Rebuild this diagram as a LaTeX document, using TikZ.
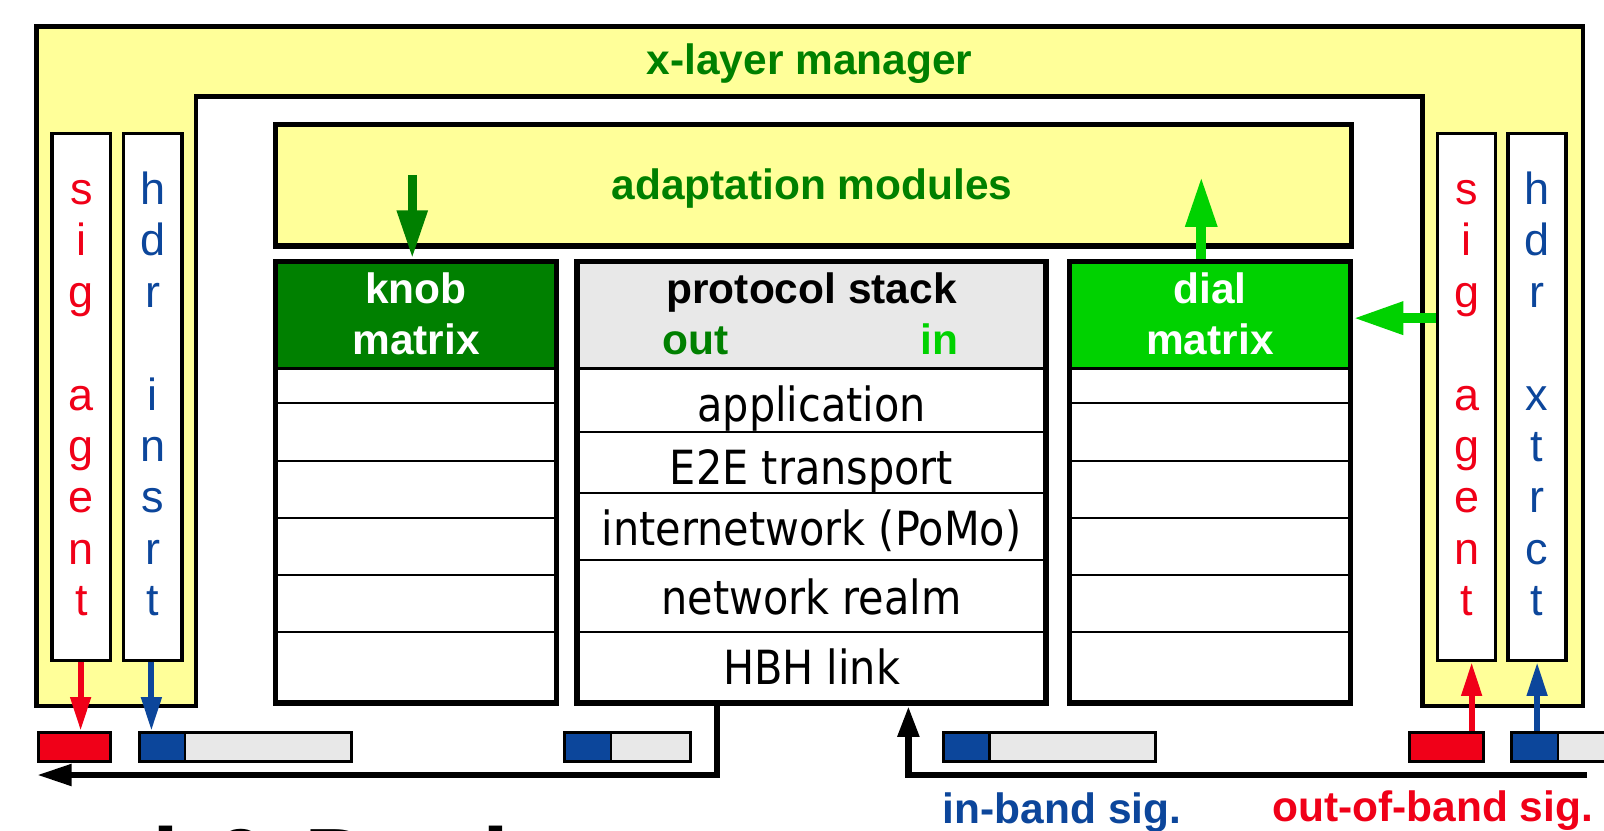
\documentclass[tikz,border=0pt]{standalone}
\usepackage{fontspec}
\setmainfont{Liberation Sans}
\newfontfamily\stackfont[FakeStretch=0.88]{DejaVu Sans}
\usetikzlibrary{arrows.meta}
\definecolor{ylw}{RGB}{255,255,153}
\definecolor{dgreen}{RGB}{0,128,0}
\definecolor{lgreen}{RGB}{0,210,0}
\definecolor{sred}{RGB}{240,0,24}
\definecolor{sblue}{RGB}{12,70,155}
\definecolor{pgray}{RGB}{232,232,232}
\begin{document}
\begin{tikzpicture}[x=1pt,y=-1pt,
  box/.style={draw=black, line width=5.5pt, rectangle, inner sep=0pt},
  big/.style={font=\fontsize{41.5}{48}\selectfont\bfseries, anchor=base, inner sep=0pt},
  stk/.style={font=\stackfont\fontsize{46}{52}\selectfont, anchor=base, inner sep=0pt},
  letter/.style={font=\fontsize{44}{50}\selectfont, anchor=base, inner sep=0pt},
  sigbox/.style={draw=black, fill=white, line width=3.5pt, inner sep=0pt, minimum width=57pt, minimum height=515pt},
  pkt/.style={draw=black, line width=3pt, inner sep=0pt, minimum height=28pt},
  rowline/.style={line width=2pt},
  hdrline/.style={line width=3pt},
  sigarrow/.style={line width=6pt, -{Triangle[length=33pt,width=19pt]}},
  busline/.style={line width=6.5pt, line join=miter},
]
\useasboundingbox (0,0) rectangle (1568,812);
\clip (0,0) rectangle (1568,812);
\fill[white] (0,0) rectangle (1568,812);

% outer x-layer manager frame
\draw[line width=4.5pt, fill=ylw, line join=miter]
  (35.5,26) -- (1547.5,26) -- (1547.5,690) -- (1390.5,690) -- (1390.5,94.6)
  -- (191.5,94.6) -- (191.5,690) -- (35.5,690) -- cycle;
\node[big, text=dgreen] (xlm) at (791.4,73.3) {x-layer manager};

% adaptation modules
\node[box, fill=ylw, minimum width=1051.6pt, minimum height=118.9pt] (adapt) at (795.2,181.15) {};
\node[big, text=dgreen] (adtxt) at (793.8,195.5) {adaptation modules};

% knob matrix
\fill[white] (269.3,255.5) rectangle (544,687.5);
\fill[dgreen] (269.3,255.5) rectangle (544,360.5);
\foreach \y in {394.3,450.3,506,562,618} \draw[rowline] (269.3,\y) -- (544,\y);
\draw[hdrline] (269.3,360.5) -- (544,360.5);
\node[box, minimum width=274.7pt, minimum height=432pt] (knob) at (406.65,471.5) {};
\node[big, text=white] (knobt1) at (406.65,296.5) {knob};
\node[big, text=white] (knobt2) at (406.65,347) {matrix};

% dial matrix
\fill[white] (1045.5,255.5) rectangle (1320,687.5);
\fill[lgreen] (1045.5,255.5) rectangle (1320,360.5);
\foreach \y in {394.3,450.3,506,562,618} \draw[rowline] (1045.5,\y) -- (1320,\y);
\draw[hdrline] (1045.5,360.5) -- (1320,360.5);
\node[box, minimum width=274.5pt, minimum height=432pt] (dial) at (1182.75,471.5) {};
\node[big, text=white] (dialt1) at (1182.75,296.5) {dial};
\node[big, text=white] (dialt2) at (1182.75,347) {matrix};

% protocol stack
\fill[white] (564,255.5) rectangle (1022.7,687.5);
\fill[pgray] (564,255.5) rectangle (1022.7,360.5);
\foreach \y in {422.6,481.6,547.4,617.5} \draw[rowline] (564,\y) -- (1022.7,\y);
\draw[hdrline] (564,360.5) -- (1022.7,360.5);
\node[box, minimum width=458.7pt, minimum height=432pt] (proto) at (793.35,471.5) {};
\node[big, text=black] (ptitle) at (793.35,296.5) {protocol stack};
\node[big, text=dgreen] (pout) at (680.3,347) {out};
\node[big, text=lgreen] (pin) at (918.3,347) {in};
\node[stk] (l1) at (793.35,412) {application};
\node[stk] (l2) at (793.35,474) {E2E transport};
\node[stk] (l3) at (793.35,532.8) {internetwork (PoMo)};
\node[stk] (l4) at (793.35,601) {network realm};
\node[stk] (l5) at (793.35,669.6) {HBH link};

% signalling agent / header boxes
\node[sigbox] (sigL) at (79.6,388) {};
\node[sigbox] (hdrL) at (149.3,388) {};
\node[sigbox] (sigR) at (1433.6,388) {};
\node[sigbox] (hdrR) at (1502.5,388) {};
\foreach \ch/\k in {s/0,i/1,g/2,a/4,g/5,e/6,n/7,t/8} {
  \node[letter, text=sred] (sl\k) at (79.6,{200+50.2*\k}) {\ch};
  \node[letter, text=sred] (sr\k) at (1433.6,{200+50.2*\k}) {\ch};
}
\foreach \ch/\k in {h/0,d/1,r/2,i/4,n/5,s/6,r/7,t/8}
  \node[letter, text=sblue] (hl\k) at (149.3,{200+50.2*\k}) {\ch};
\foreach \ch/\k in {h/0,d/1,r/2,x/4,t/5,r/6,c/7,t/8}
  \node[letter, text=sblue] (hr\k) at (1502.5,{200+50.2*\k}) {\ch};

% packets
\node[pkt, fill=sred, minimum width=69.7pt] (pL1) at (72.75,730) {};
\fill[pgray] (136.6,716) rectangle (343.8,744);
\fill[sblue] (136.6,716) rectangle (181,744);
\draw[line width=2pt] (181,716) -- (181,744);
\node[pkt, minimum width=207.2pt] (pL2) at (240.2,730) {};

\fill[pgray] (551.8,716) rectangle (674.8,744);
\fill[sblue] (551.8,716) rectangle (597.3,744);
\draw[line width=2pt] (597.3,716) -- (597.3,744);
\node[pkt, minimum width=123pt] (pM1) at (613.3,730) {};

\fill[pgray] (922.4,716) rectangle (1130,744);
\fill[sblue] (922.4,716) rectangle (967.3,744);
\draw[line width=2pt] (967.3,716) -- (967.3,744);
\node[pkt, minimum width=207.6pt] (pM2) at (1026.2,730) {};

\node[pkt, fill=sred, minimum width=72.6pt] (pR1) at (1413.7,730) {};
\fill[pgray] (1477.7,716) rectangle (1685,744);
\fill[sblue] (1477.7,716) rectangle (1523.3,744);
\draw[line width=2pt] (1523.3,716) -- (1523.3,744);
\node[pkt, minimum width=207.3pt] (pR2) at (1581.35,730) {};

% green arrows
\coordinate (ka) at (403,171);
\draw[line width=9pt, dgreen, -{Triangle[length=47pt,width=28pt]}] (ka) -- (ka |- knob.north);
\coordinate (da) at (1174.3,172.7);
\draw[line width=9.5pt, lgreen, -{Triangle[length=49pt,width=29pt]}] (da |- dial.north) -- (da);
\coordinate (sa) at (1420,311);
\draw[line width=10pt, lgreen, -{Triangle[length=49pt,width=30pt]}] (sa -| sigR.west) -- (sa -| dial.east);

% signalling arrows
\coordinate (ra) at (78.8,700);
\draw[sigarrow, sred] (ra |- sigL.south) -- (ra |- pL1.north);
\coordinate (ba) at (148,700);
\draw[sigarrow, sblue] (ba |- hdrL.south) -- (ba |- pL2.north);
\coordinate (rb) at (1438.6,700);
\draw[sigarrow, sred] (rb |- pR1.north) -- (rb |- sigR.south);
\coordinate (bb) at (1502.6,700);
\draw[sigarrow, sblue] (bb |- pR2.north) -- (bb |- hdrR.south);

% bus lines
\coordinate (bl) at (36,757.6);
\coordinate (bm) at (700.8,757.6);
\draw[busline, -{Triangle[length=34pt,width=20pt]}] (bm |- proto.south) -- (bm) -- (bl);
\coordinate (br) at (1551.5,757.6);
\coordinate (bu) at (888,757.6);
\draw[busline, -{Triangle[length=30pt,width=20pt]}] (br) -- (bu) -- (bu |- proto.south);

% labels
\node[big, text=sblue] (ib) at (1038.2,804.7) {in-band sig.};
\node[big, text=sred] (oob) at (1400.5,803) {out-of-band sig.};
\node[font=\fontsize{95}{100}\selectfont\bfseries, anchor=base west, inner sep=0pt] (cd) at (-162,876) {Control \& Design};
\end{tikzpicture}
\end{document}
